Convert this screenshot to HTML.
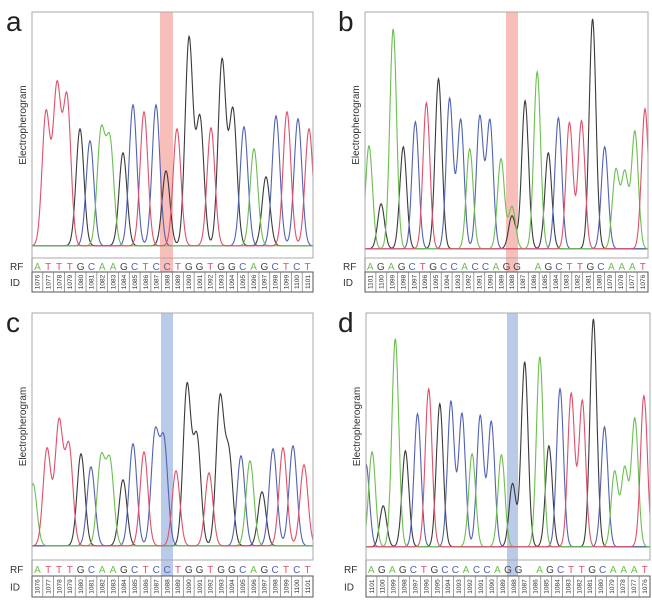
<!DOCTYPE html>
<html><head><meta charset="utf-8"><style>
body{margin:0;background:#fff;}
svg{display:block;font-family:"Liberation Sans",Arial,sans-serif;}
</style></head><body>
<svg id="fig" width="652" height="602" viewBox="0 0 652 602"></svg>
<script>
// ---- data: peaks per panel (scan position, intensity, base) ----
const posA=[1,14,25,35,48,58,69,78,91,101,112,124,134,145,157,168,179,190,201,212,222,234,244,255,266,277];
const hA=[85,133,157,147,117,105,112,103,93,141,134,141,75,117,207,127,118,185,135,119,97,69,130,134,127,117];
const bA=["G","T","T","T","K","C","A","A","K","C","T","C","K","T","K","K","T","K","K","C","A","K","C","T","C","T"];
const posB=[4,16,28,38,50,61,73,84,95,104,114,124,135,146,146,159,171,182,192,203,215,226,238,249,258,268,278];
const hB=[103,45,220,102,127,146,170,150,129,100,132,128,90,42,33,148,177,96,131,126,128,230,102,78,75,117,140];
const bB=["A","K","A","K","C","T","K","C","C","A","C","C","A","A","K","K","A","K","C","T","T","K","C","A","A","A","T"];
const posC=[1,15,27,37,49,59,69,78,91,101,112,123,132,144,155,165,177,188,197,209,218,230,241,251,261,272];
const hC=[62,97,123,99,92,79,86,83,66,102,94,110,103,75,159,107,73,145,89,90,85,54,97,98,100,81];
const bC=["A","T","T","T","K","C","A","A","K","C","T","C","C","T","K","K","T","K","K","C","A","K","C","T","C","T"];
const posD=[0,6,17,29,39,51,62,73,84,95,105,113,124,134,145,157,172,181,192,203,214,225,236,246,256,266,275];
const hD=[83,95,41,208,96,133,158,143,145,133,93,131,125,92,63,185,190,101,158,153,146,228,120,75,78,128,151];
const bD=["C","A","K","A","K","C","T","K","C","C","A","C","C","A","K","K","A","K","C","T","T","K","C","A","A","A","T"];
const seqA="ATTTGCAAGCTCCTGGTGGCAGCTCT";
const seqB="AGAGCTGCCACCAGG AGCTTGCAAAT";
const idsAsc=[1076,1077,1078,1079,1080,1081,1082,1083,1084,1085,1086,1087,1088,1089,1090,1091,1092,1093,1094,1095,1096,1097,1098,1099,1100,1101];
const idsDesc=idsAsc.slice().reverse();

const NS="http://www.w3.org/2000/svg";
const svg=document.getElementById("fig");
const traceCol={A:"#6cbf50",T:"#e0506a",C:"#5262b4",K:"#3a3a3a"};
const letterCol={A:"#6cbf50",T:"#e0506a",C:"#5262b4",G:"#444"};
function mk(tag,attrs,parent){const e=document.createElementNS(NS,tag);for(const k in attrs)e.setAttribute(k,attrs[k]);(parent||svg).appendChild(e);return e;}

function panel(cfg){
  const g=mk("g",{});
  
  
  const L=cfg.L,R=cfg.R,T=cfg.T,B=cfg.B,base=cfg.base,ymax=cfg.ymax;
  const xs=s=>L+s*(R-L)/281;
  const ys=v=>base-v*(base-T)/ymax;
  const lab=mk("text",{x:cfg.lx,y:T+19,"font-size":28,fill:"#222"},g);lab.textContent=cfg.label;
  
  
  const yt=mk("text",{x:0,y:0,"font-size":10,fill:"#333","text-anchor":"middle",transform:`translate(${L-6},${(T+B)/2-10}) rotate(-90)`},g);yt.textContent="Electropherogram";
  
  
  const hl=mk("rect",{x:cfg.hx,y:T,width:cfg.hw,height:cfg.idT-T,fill:cfg.hcol},g);
  
  
  const sig=cfg.sig;
  ["K","C","A","T"].forEach(b=>{
    let d="";
    for(let s=0;s<=281;s+=0.5){
      let v=0;
      for(let i=0;i<cfg.pos.length;i++){if(cfg.bases[i]!==b)continue;const dx=s-cfg.pos[i];v+=cfg.h[i]*Math.exp(-dx*dx/(2*sig*sig));}
      v+=1.2;
      d+=(d?"L":"M")+xs(s).toFixed(1)+","+ys(v).toFixed(1);
    }
    const p=mk("path",{d:d,fill:"none",stroke:traceCol[b],"stroke-width":1.1},g);
    
    
  });
  const fr=mk("rect",{x:L,y:T,width:R-L,height:B-T,fill:"none",stroke:"#a8a8a8","stroke-width":1},g);
  
  
  mk("line",{x1:L,y1:B,x2:L,y2:cfg.idB,stroke:"#888"},g);
  const rf=mk("text",{x:L-22,y:cfg.rfY+4,"font-size":10,fill:"#333"},g);rf.textContent="RF";
  
  
  const seq=cfg.seq,n=seq.length,cw=(R-L)/n;
  for(let i=0;i<n;i++){const c=seq[i];if(c===" ")continue;
    const t=mk("text",{x:L+cw*(i+0.5),y:cfg.rfY+4,"font-size":10,"text-anchor":"middle",fill:letterCol[c]},g);t.textContent=c;
    
    }
  const idl=mk("text",{x:L-22,y:(cfg.idT+cfg.idB)/2+4,"font-size":10,fill:"#333"},g);idl.textContent="ID";
  
  
  const ib=mk("rect",{x:L,y:cfg.idT,width:R-L,height:cfg.idB-cfg.idT,fill:"none",stroke:"#555","stroke-width":1},g);
  
  
  const cw2=(R-L)/26;
  cfg.ids.forEach((id,i)=>{
    if(i>0)mk("line",{x1:L+cw2*i,y1:cfg.idT,x2:L+cw2*i,y2:cfg.idB,stroke:"#777","stroke-width":0.7},g);
    const cx=L+cw2*(i+0.5),cy=(cfg.idT+cfg.idB)/2;
    const t=mk("text",{x:0,y:0,"font-size":6.5,fill:"#333","text-anchor":"middle",transform:`translate(${cx+2.3},${cy}) rotate(-90)`},g);t.textContent=id;
    
    
  });
}
const red="rgba(240,110,100,0.45)",blue="rgba(100,140,205,0.45)";
panel({label:"a",lx:6,L:32,R:313,T:12,B:258,base:247,ymax:235,sig:3.9,pos:posA,h:hA,bases:bA,seq:seqA,ids:idsAsc,rfY:266,idT:272,idB:292,hx:160,hw:13,hcol:red});
panel({label:"b",lx:338,L:365,R:648,T:12,B:258,base:250,ymax:238,sig:3.4,pos:posB,h:hB,bases:bB,seq:seqB,ids:idsDesc,rfY:266,idT:272,idB:292,hx:506,hw:12,hcol:red});
panel({label:"c",lx:6,L:32,R:313,T:313,B:560,base:547,ymax:234,sig:3.9,pos:posC,h:hC,bases:bC,seq:seqA,ids:idsAsc,rfY:569,idT:576,idB:597,hx:161,hw:12,hcol:blue});
panel({label:"d",lx:338,L:366,R:650,T:313,B:560,base:548,ymax:235,sig:3.4,pos:posD,h:hD,bases:bD,seq:seqB,ids:idsDesc,rfY:569,idT:576,idB:597,hx:507,hw:11,hcol:blue});
</script>
</body></html>
